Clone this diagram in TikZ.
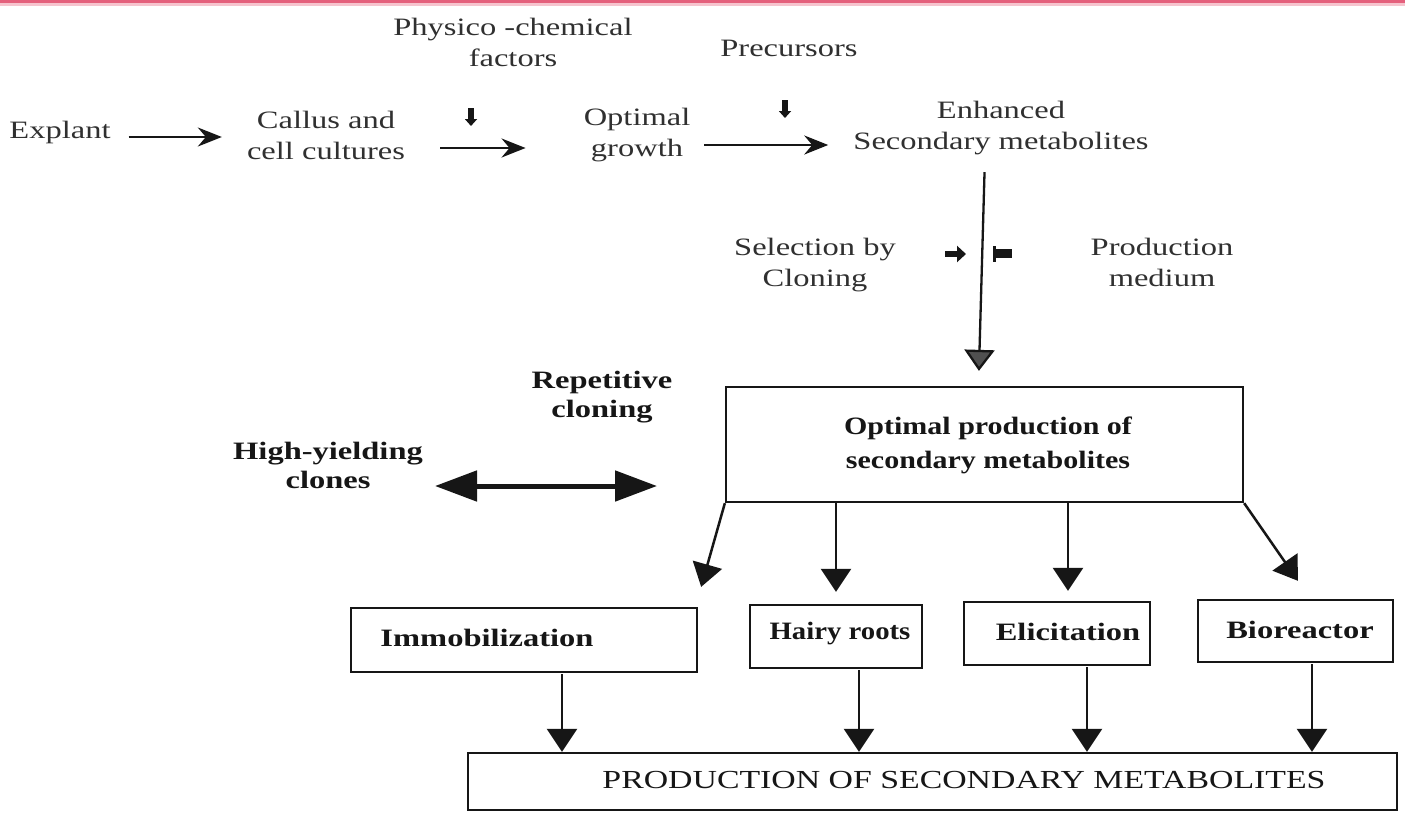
\documentclass[tikz,border=0pt]{standalone}
\usepackage{fontspec}
\setmainfont{Liberation Serif}
\newfontfamily\wideserif{Liberation Serif}[FakeStretch=1.3]
\newfontfamily\midserif{Liberation Serif}[FakeStretch=1.2]
\newfontfamily\slimserif{Liberation Serif}[FakeStretch=1.15]
\usetikzlibrary{arrows.meta}

\definecolor{ink}{HTML}{161616}
\definecolor{softink}{HTML}{303030}
\definecolor{rim}{RGB}{228,96,124}
\definecolor{rimsoft}{RGB}{246,196,206}

\begin{document}
\begin{tikzpicture}[x=1pt, y=-1pt,
  toplbl/.style={inner sep=0pt, align=center, text=softink,
    font=\wideserif\fontsize{25}{31}\selectfont},
  boldlbl/.style={inner sep=0pt, align=center, text=ink,
    font=\wideserif\bfseries\fontsize{25}{29}\selectfont},
  boxlbl/.style={inner sep=0pt, align=center, text=ink,
    font=\wideserif\bfseries\fontsize{25}{30}\selectfont},
  narrowlbl/.style={boxlbl, font=\slimserif\bfseries\fontsize{25}{30}\selectfont},
  optlbl/.style={inner sep=0pt, align=center, text=ink,
    font=\midserif\bfseries\fontsize{25}{34}\selectfont},
  caplbl/.style={inner sep=0pt, text=ink,
    font=\wideserif\fontsize{26}{30}\selectfont},
  stepbox/.style={draw=ink, line width=2.3pt, inner sep=0pt},
  flowarr/.style={draw=ink, line width=2.3pt,
    -{Stealth[length=24pt,width=19pt,inset=8pt]}},
  downarr/.style={draw=ink, line width=2.5pt,
    -{Triangle[length=23pt,width=30pt]}},
  tinyarr/.style={draw=ink, line width=6pt,
    -{Triangle[length=7pt,width=12pt]}},
]
\useasboundingbox (0,0) rectangle (1405,814);
\fill[white] (0,0) rectangle (1405,814);
% coloured rule along the upper edge
\fill[rim] (0,0) rectangle (1405,3);
\fill[rimsoft] (0,3) rectangle (1405,5.5);

% ---- upper chain ----
\node[toplbl] (explant) at (60,132) {Explant};
\node[toplbl] (callus) at (326,135) {Callus and\\cell cultures};
\node[toplbl] (phys) at (513,42) {Physico -chemical\\factors};
\node[toplbl] (growth) at (637,135) {Optimal\\growth};
\node[toplbl] (prec) at (789,48) {Precursors};
\node[toplbl] (enh) at (1001,128) {Enhanced\\Secondary metabolites};

\draw[flowarr, shorten <=18pt, shorten >=25pt]
  ([yshift=-5pt]explant.east) -- ([yshift=-5pt]explant.east -| callus.west);
\draw[flowarr, shorten <=35pt, shorten >=58pt]
  ([yshift=-13pt]callus.east) -- ([yshift=-13pt]callus.east -| growth.west);
\draw[flowarr, shorten <=14pt, shorten >=25pt]
  ([yshift=-10pt]growth.east) -- ([yshift=-10pt]growth.east -| enh.west);

% small inflow marks under the factor labels
\coordinate (physin) at (471,108);
\coordinate (precin) at (785,100);
\draw[tinyarr] (physin) -- ++(0,18);
\draw[tinyarr] (precin) -- ++(0,18);

% ---- selection step ----
\node[toplbl] (sel) at (815,265) {Selection by\\Cloning};
\node[toplbl] (med) at (1162,262) {Production\\medium};

\node[stepbox, minimum width=517pt, minimum height=115pt] (opt) at (984.5,444.5) {};
\node[optlbl] (optlabel) at (988,445) {Optimal production of\\secondary metabolites};

\draw[draw=ink, line width=2.3pt, shorten <=17pt, shorten >=15pt,
  -{Triangle[length=21pt,width=30pt,fill=ink!75]}]
  ([xshift=-16pt]enh.south) -- ([xshift=-6pt]opt.north);

\coordinate (selin) at (945,254);
\draw[draw=ink, line width=6pt, -{Triangle[length=9pt,width=16pt]}] (selin) -- ++(21,0);
\coordinate (medin) at (994,246);
\draw[ink, line width=3pt] (medin) -- ++(0,16);
\fill[ink] ([xshift=2pt,yshift=-3pt]medin) rectangle ++(16,9);

% ---- repeated cloning ----
\node[boldlbl] (rep) at (602,397) {Repetitive\\cloning};
\node[boldlbl] (hy) at (328,465) {High-yielding\\clones};
\coordinate (loopl) at (435,486);
\coordinate (loopr) at (657,486);
\draw[draw=ink, line width=5pt,
  {Triangle[length=42pt,width=30pt]}-{Triangle[length=42pt,width=30pt]}]
  (loopl) -- (loopr);

% ---- techniques ----
\node[stepbox, minimum width=346pt, minimum height=64pt] (imm) at (524,640) {};
\node[boxlbl] at (487,638) {Immobilization};
\node[stepbox, minimum width=172pt, minimum height=63pt] (hairy) at (836,636.5) {};
\node[narrowlbl] at (840,634) {Hairy roots};
\node[stepbox, minimum width=186pt, minimum height=63pt] (elic) at (1057,633.5) {};
\node[boxlbl] at (1068,632) {Elicitation};
\node[stepbox, minimum width=195pt, minimum height=62pt] (bio) at (1295.5,631) {};
\node[boxlbl] at (1300,630) {Bioreactor};

\draw[downarr] (opt.south west) -- ([xshift=3pt,yshift=20pt]imm.north east);
\draw[downarr] (hairy.north |- opt.south) -- ([yshift=12pt]hairy.north);
\draw[downarr] ([xshift=11pt]elic.north |- opt.south) -- ([xshift=11pt,yshift=10pt]elic.north);
\draw[downarr] (opt.south east) -- ([xshift=2.5pt,yshift=18pt]bio.north);

% ---- final output ----
\node[stepbox, minimum width=929pt, minimum height=57pt] (prod) at (932.5,781.5) {};
\node[caplbl] at (964,780) {PRODUCTION OF SECONDARY METABOLITES};

\draw[downarr, shorten <=1pt] ([xshift=38pt]imm.south) -- ([xshift=38pt]imm.south |- prod.north);
\draw[downarr, shorten <=1pt] ([xshift=23pt]hairy.south) -- ([xshift=23pt]hairy.south |- prod.north);
\draw[downarr, shorten <=1pt] ([xshift=30pt]elic.south) -- ([xshift=30pt]elic.south |- prod.north);
\draw[downarr, shorten <=1pt] ([xshift=16.5pt]bio.south) -- ([xshift=16.5pt]bio.south |- prod.north);
\end{tikzpicture}
\end{document}
